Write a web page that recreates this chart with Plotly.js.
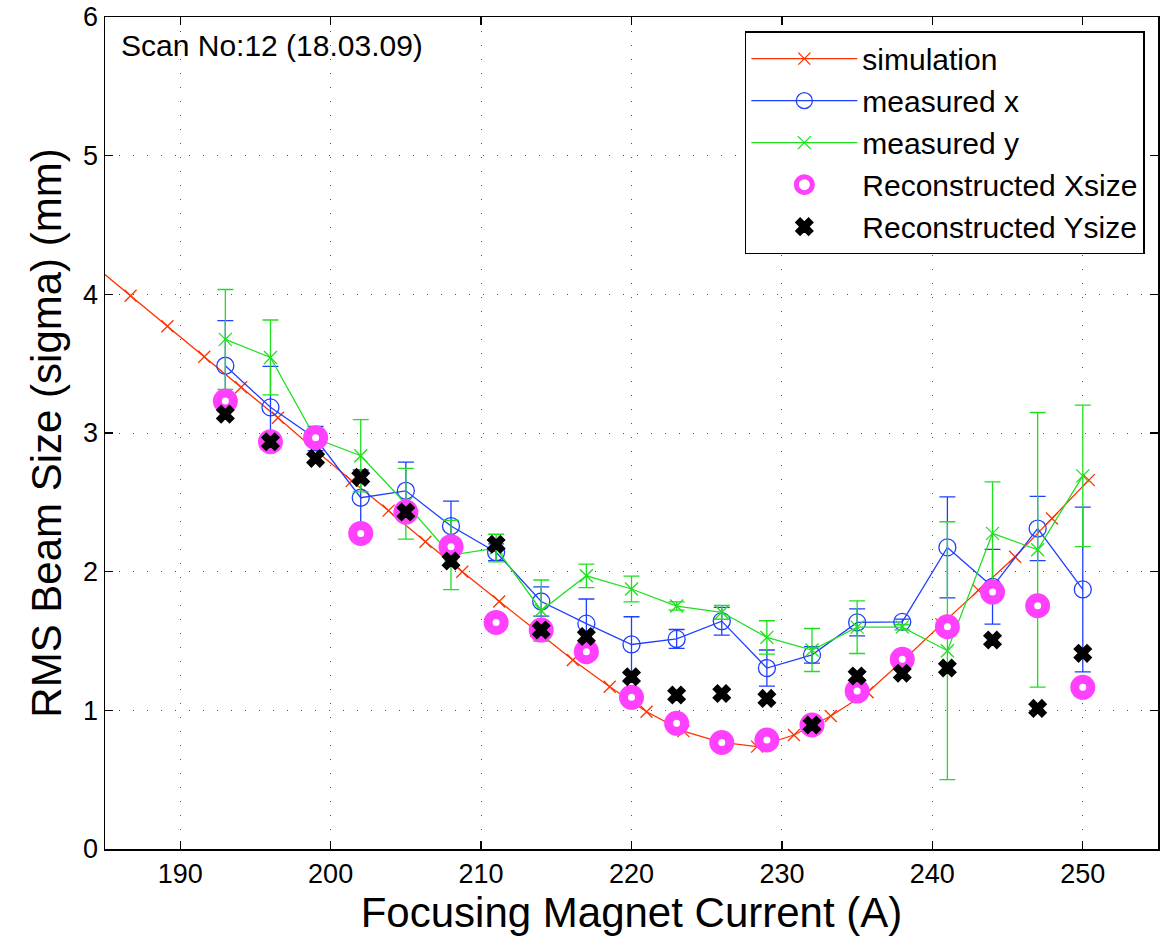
<!DOCTYPE html>
<html>
<head>
<meta charset="utf-8">
<script src="https://cdn.plot.ly/plotly-3.0.1.min.js"></script>
<style>html,body{margin:0;padding:0;background:#fff;}#chart{width:1171px;height:943px;}</style>
</head>
<body>
<div id="chart"></div>
<script>
// Simulation curve
const simX = [184.25, 186.7, 189.15, 191.6, 194.05, 196.5, 198.95, 201.4, 203.85, 206.3, 208.75, 211.2, 213.65, 216.1, 218.55, 221.0, 223.45, 225.9, 228.35, 230.8, 233.25, 235.7, 238.15, 240.6, 243.05, 245.5, 247.95, 250.4];
const simY = [4.21, 3.99, 3.77, 3.55, 3.33, 3.11, 2.88, 2.655, 2.44, 2.216, 2.00, 1.785, 1.575, 1.363, 1.17, 0.99, 0.85, 0.77, 0.738, 0.822, 0.959, 1.13, 1.37, 1.62, 1.867, 2.107, 2.384, 2.66];

// Measurement currents
const current = [193, 196, 199, 202, 205, 208, 211, 214, 217, 220, 223, 226, 229, 232, 235, 238, 241, 244, 247, 250];

// measured x
const measX    = [3.485, 3.185, 2.96, 2.533, 2.583, 2.329, 2.14, 1.785, 1.625, 1.475, 1.515, 1.643, 1.305, 1.40, 1.634, 1.638, 2.175, 1.891, 2.311, 1.872];
const measXErr = [0.325, 0.295, 0.087, 0.2, 0.207, 0.18, 0.06, 0.105, 0.178, 0.2, 0.068, 0.1, 0.13, 0.06, 0.097, 0.02, 0.364, 0.27, 0.232, 0.594];

// measured y
const measY    = [3.675, 3.545, 2.96, 2.836, 2.49, 2.12, 2.17, 1.72, 1.97, 1.875, 1.752, 1.707, 1.526, 1.435, 1.60, 1.60, 1.43, 2.276, 2.158, 2.691];
const measYErr = [0.36, 0.27, 0.03, 0.26, 0.255, 0.25, 0.1, 0.22, 0.085, 0.093, 0.03, 0.05, 0.12, 0.155, 0.19, 0.02, 0.93, 0.372, 0.99, 0.51];

// reconstructed sizes
const recX = [3.23, 2.937, 2.966, 2.276, 2.43, 2.18, 1.634, 1.579, 1.423, 1.094, 0.906, 0.768, 0.786, 0.894, 1.139, 1.368, 1.603, 1.853, 1.754, 1.166];
const recY = [3.136, 2.937, 2.817, 2.68, 2.43, 2.077, 2.198, 1.579, 1.533, 1.242, 1.11, 1.122, 1.086, 0.894, 1.247, 1.267, 1.305, 1.507, 1.014, 1.411];

const RED = '#ff3300', BLUE = '#1f3fff', GREEN = '#1fe01f', MAG = '#ff40ff';
const FONT = '"Liberation Sans", Arial, Helvetica, sans-serif';

const traces = [
  {x: simX, y: simY, name: 'simulation', mode: 'lines+markers',
   line: {color: RED, width: 1.3},
   marker: {symbol: 'x-thin', size: 12, color: RED, line: {color: RED, width: 1.3}}},
  {x: current, y: measX, name: 'measured x', mode: 'lines+markers',
   line: {color: BLUE, width: 1.3},
   marker: {symbol: 'circle-open', size: 17, color: BLUE, line: {width: 1.3}},
   error_y: {type: 'data', array: measXErr, visible: true, color: BLUE, thickness: 1.3, width: 8}},
  {x: current, y: measY, name: 'measured y', mode: 'lines+markers',
   line: {color: GREEN, width: 1.3},
   marker: {symbol: 'x-thin', size: 13, color: GREEN, line: {color: GREEN, width: 1.3}},
   error_y: {type: 'data', array: measYErr, visible: true, color: GREEN, thickness: 1.3, width: 8}},
  {x: current, y: recX, name: 'Reconstructed Xsize', mode: 'markers',
   marker: {symbol: 'circle', size: 16, color: '#ffffff', line: {color: MAG, width: 9}}},
  {x: current, y: recY, name: 'Reconstructed Ysize', mode: 'markers',
   marker: {symbol: 'x', size: 15, color: '#000000', line: {color: '#000000', width: 1.5}}}
];

const layout = {
  width: 1171, height: 943,
  margin: {l: 105, r: 13, t: 17, b: 94},
  paper_bgcolor: '#ffffff', plot_bgcolor: '#ffffff',
  font: {family: FONT, color: '#000', size: 28},
  showlegend: true,
  legend: {x: 0.9875, y: 0.983, xanchor: 'right', yanchor: 'top',
           bgcolor: '#ffffff', bordercolor: '#000', borderwidth: 1.5,
           font: {family: FONT, size: 30, color: '#000'}, itemwidth: 106, tracegroupgap: 0},
  xaxis: {range: [185, 255], tick0: 190, dtick: 10, ticks: 'inside', ticklen: 8, tickwidth: 1.3,
          tickcolor: '#000', showline: true, linecolor: '#000', linewidth: 1.5, mirror: 'ticks',
          showgrid: true, gridcolor: '#555', griddash: '1px,13px', gridwidth: 1, zeroline: false,
          tickfont: {family: FONT, size: 27},
          title: {text: 'Focusing Magnet Current (A)', font: {family: FONT, size: 42}, standoff: 6}},
  yaxis: {range: [0, 6], dtick: 1, ticks: 'inside', ticklen: 8, tickwidth: 1.3,
          tickcolor: '#000', showline: true, linecolor: '#000', linewidth: 1.5, mirror: 'ticks',
          showgrid: true, gridcolor: '#555', griddash: '1px,13px', gridwidth: 1, zeroline: false,
          tickfont: {family: FONT, size: 27},
          title: {text: 'RMS Beam Size (sigma) (mm)', font: {family: FONT, size: 42}, standoff: 8}},
  annotations: [{xref: 'paper', yref: 'paper', x: 0.013, y: 0.966, xanchor: 'left', yanchor: 'middle',
                 text: 'Scan No:12 (18.03.09)', showarrow: false, font: {family: FONT, size: 30, color: '#000'}}]
};

Plotly.newPlot('chart', traces, layout, {displayModeBar: false, staticPlot: true});
</script>
</body>
</html>
